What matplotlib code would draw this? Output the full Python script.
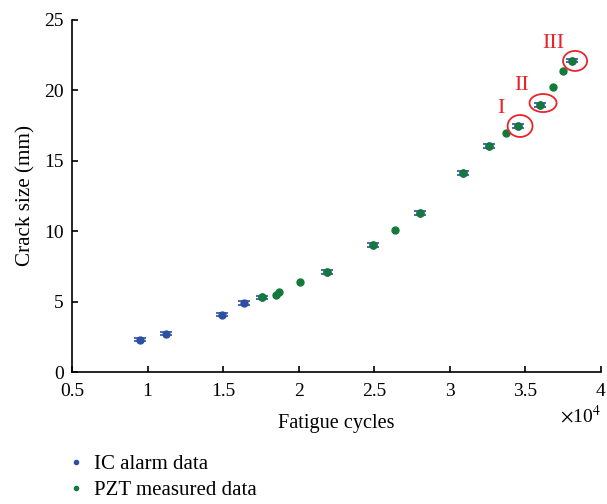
import matplotlib
matplotlib.use("Agg")
import matplotlib.pyplot as plt
from matplotlib.ticker import FuncFormatter, MultipleLocator
from matplotlib.patches import Ellipse

plt.rcParams['font.family'] = ['Liberation Serif', 'DejaVu Serif']
plt.rcParams['mathtext.fontset'] = 'stix'

# IC alarm data (with error bars)
ic_cycles = [9500, 11200, 14900, 16400, 17600, 21900, 24900, 28000, 30900, 32600, 34500, 36000, 38100]
ic_crack = [2.3, 2.72, 4.07, 4.9, 5.3, 7.1, 9.03, 11.3, 14.13, 16.05, 17.47, 18.96, 22.1]
ic_err = [0.12] * len(ic_cycles)

# PZT measured data
pzt_cycles = [17600, 18500, 18700, 20100, 21900, 24900, 26400, 28000, 30900, 32600, 33700, 34500, 36000, 36800, 37500, 38100]
pzt_crack = [5.3, 5.5, 5.68, 6.42, 7.1, 9.03, 10.09, 11.3, 14.13, 16.05, 16.97, 17.47, 18.96, 20.24, 21.38, 22.1]

# Annotations
ann_labels = ["I", "II", "III"]
ell_x = [34650, 36170, 38290]
ell_y = [17.47, 19.1, 22.09]
ell_w = [1650, 1790, 1590]
ell_h = [1.56, 1.28, 1.42]
lab_x = [33390, 34780, 36830]
lab_y = [18.68, 20.38, 23.3]

blue = '#2c4fa3'
green = '#137a3b'
red = '#e8252b'

fig = plt.figure(figsize=(6.07, 5.04), dpi=100)
ax = fig.add_axes([0.1186, 0.2619, 0.8714, 0.6985])

ax.errorbar(ic_cycles, ic_crack, yerr=ic_err, fmt='o', color=blue, ms=5,
            capsize=4.5, elinewidth=1.0, capthick=1.2, zorder=2, label='IC alarm data')
ax.plot(pzt_cycles, pzt_crack, 'o', color=green, ms=5, zorder=3, label='PZT measured data')

for x, y, w, h in zip(ell_x, ell_y, ell_w, ell_h):
    ax.add_patch(Ellipse((x, y), width=w, height=h, fill=False, edgecolor=red, lw=1.3, zorder=4))
for lab, x, y in zip(ann_labels, lab_x, lab_y):
    ax.text(x, y, lab, color=red, fontsize=16, ha='center', va='center')

ax.set_xlim(5000, 40000)
ax.set_ylim(0, 25)
ax.xaxis.set_major_locator(MultipleLocator(5000))
ax.yaxis.set_major_locator(MultipleLocator(5))
ax.xaxis.set_major_formatter(FuncFormatter(lambda v, p: '%g' % (v / 1e4)))

for s in ['top', 'right']:
    ax.spines[s].set_visible(False)
for s in ['left', 'bottom']:
    ax.spines[s].set_linewidth(1.2)
ax.tick_params(direction='in', length=4, width=1.2, labelsize=14)
ax.tick_params(axis='x', pad=8)
ax.tick_params(axis='y', pad=6)

ax.text(1.0, -0.093, r'$\times\mathregular{10}^{4}$', transform=ax.transAxes,
        ha='right', va='top', fontsize=14)

ax.set_xlabel('Fatigue cycles', fontsize=14.6, labelpad=10)
ax.set_ylabel('Crack size (mm)', fontsize=15.2, labelpad=6)

h1 = plt.Line2D([], [], ls='none', marker='o', color=blue, ms=3)
h2 = plt.Line2D([], [], ls='none', marker='o', color=green, ms=3)
fig.legend([h1, h2], ['IC alarm data', 'PZT measured data'], loc='center left',
           bbox_to_anchor=(0.1115, 0.053), frameon=False, fontsize=15,
           handlelength=0.8, handletextpad=0.47, labelspacing=0.3, borderpad=0,
           borderaxespad=0)

fig.savefig('out.png', dpi=100)
